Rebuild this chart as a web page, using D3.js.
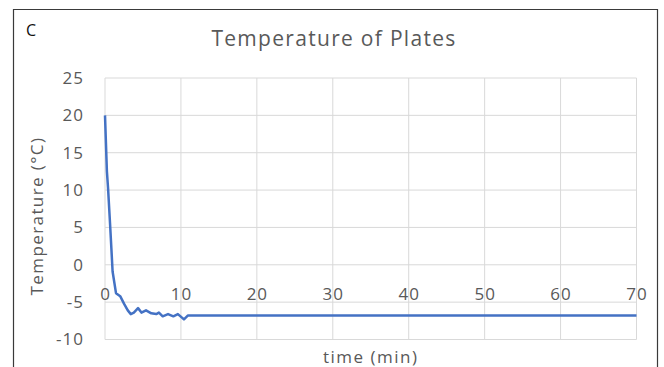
<!DOCTYPE html>
<html>
<head>
<meta charset="utf-8">
<script src="https://cdn.jsdelivr.net/npm/d3@7"></script>
<style>
  body { margin: 0; background: #fff; }
  svg { display: block; font-family: "Open Sans", "Noto Sans", sans-serif; }
</style>
</head>
<body>
<svg id="chart" width="664" height="367"></svg>
<script>
'use strict'

// --------------------------------------------------------------------
// ------------------------------------------------------- DATA -------

let timeMin = [0, 0.25, 0.4, 0.66, 0.85, 1.0, 1.45, 2.0, 2.5, 3.0, 3.4, 3.8, 4.35,
  4.8, 5.4, 6.1, 6.75, 7.1, 7.6, 8.3, 9.0, 9.6, 10.4, 10.9, 20, 30, 40, 50, 60, 70]
let tempC = [20, 12.5, 10.3, 5.6, 2.0, -0.9, -3.8, -4.2, -5.2, -6.1, -6.6, -6.4, -5.8,
  -6.4, -6.1, -6.5, -6.6, -6.4, -6.9, -6.6, -6.9, -6.6, -7.3, -6.8, -6.8, -6.8, -6.8, -6.8, -6.8, -6.8]

let xTicks = [0, 10, 20, 30, 40, 50, 60, 70]
let yTicks = [-10, -5, 0, 5, 10, 15, 20, 25]

let chartTitle = 'Temperature of Plates'
let xTitle = 'time (min)'
let yTitle = 'Temperature (°C)'
let panelLabel = 'C'

let data = timeMin.map((t, i) => { return {time: t, temp: tempC[i]} })

// --------------------------------------------------------------------
// ------------------------------------------ POSITIONNING DATA -------

let svg = d3.select('#chart')

let plotLeft = 105
let plotRight = 636.5
let plotTop = 78
let plotBottom = 339.5

let textColor = '#595959'
let gridColor = '#d9d9d9'

// frame
svg.append('path')
  .attr('d', 'M13.5,372 V9.5 H657.5 V372')
  .attr('fill', 'none')
  .attr('stroke', '#3a3a3a')
  .attr('stroke-width', 1.2)

// --------------------------------------------------------------------
// ----------------------------------------------------- SCALES -------

let xScale = d3.scaleLinear()
  .domain([0, 70])
  .range([plotLeft, plotRight])

let yScale = d3.scaleLinear()
  .domain([-10, 25])
  .range([plotBottom, plotTop])

// --------------------------------------------------------------------
// ------------------------------------------------- AXIS/GRIDS -------

svg.append('g')
  .selectAll('line')
  .data(yTicks)
  .enter()
  .append('line')
    .attr('x1', plotLeft)
    .attr('x2', plotRight)
    .attr('y1', d => yScale(d))
    .attr('y2', d => yScale(d))
    .attr('stroke', gridColor)
    .attr('stroke-width', 1)

svg.append('g')
  .selectAll('line')
  .data(xTicks)
  .enter()
  .append('line')
    .attr('x1', d => xScale(d))
    .attr('x2', d => xScale(d))
    .attr('y1', plotTop)
    .attr('y2', plotBottom)
    .attr('stroke', gridColor)
    .attr('stroke-width', 1)

let y_axis = d3.axisLeft(yScale)
  .tickValues(yTicks)
  .tickFormat(d => String(d))
  .tickSize(0)
  .tickPadding(21)

let yG = svg.append('g')
  .attr('transform', 'translate(' + plotLeft + ',0)')
  .call(y_axis)
yG.select('.domain').remove()
yG.selectAll('text')
  .attr('fill', textColor)
  .style('font-size', '17px')
  .style('letter-spacing', '1px')
  .style('font-family', '"Open Sans", sans-serif')

// x labels sit just under the zero line
let x_axis = d3.axisBottom(xScale)
  .tickValues(xTicks)
  .tickFormat(d => String(d))
  .tickSize(0)
  .tickPadding(23)

let xG = svg.append('g')
  .attr('transform', 'translate(0,' + yScale(0) + ')')
  .call(x_axis)
xG.select('.domain').remove()
xG.selectAll('text')
  .attr('fill', textColor)
  .style('font-size', '17px')
  .style('letter-spacing', '1px')
  .style('font-family', '"Open Sans", sans-serif')

// --------------------------------------------------------------------
// ----------------------------------------------- DISPLAY DATA -------

let lineFunction = d3.line()
  .x(d => xScale(d.time))
  .y(d => yScale(d.temp))

svg.append('path')
  .datum(data)
  .attr('d', lineFunction)
  .attr('fill', 'none')
  .attr('stroke', '#4472c4')
  .attr('stroke-width', 2.5)
  .attr('stroke-linejoin', 'round')

// --------------------------------------------------------------------
// ----------------------------------------------------- TEXTS --------

svg.append('text')
  .attr('x', 334)
  .attr('y', 46)
  .attr('text-anchor', 'middle')
  .attr('fill', textColor)
  .style('font-size', '21px')
  .style('letter-spacing', '1.3px')
  .text(chartTitle)

svg.append('text')
  .attr('x', 26)
  .attr('y', 36)
  .attr('fill', '#111')
  .style('font-size', '16px')
  .text(panelLabel)

svg.append('text')
  .attr('x', (plotLeft + plotRight) / 2)
  .attr('y', 363)
  .attr('text-anchor', 'middle')
  .attr('fill', textColor)
  .style('font-size', '17px')
  .style('letter-spacing', '1.5px')
  .text(xTitle)

svg.append('text')
  .attr('transform', 'translate(43,216) rotate(-90)')
  .attr('text-anchor', 'middle')
  .attr('fill', textColor)
  .style('font-size', '17px')
  .style('letter-spacing', '1.4px')
  .text(yTitle)
</script>
</body>
</html>
